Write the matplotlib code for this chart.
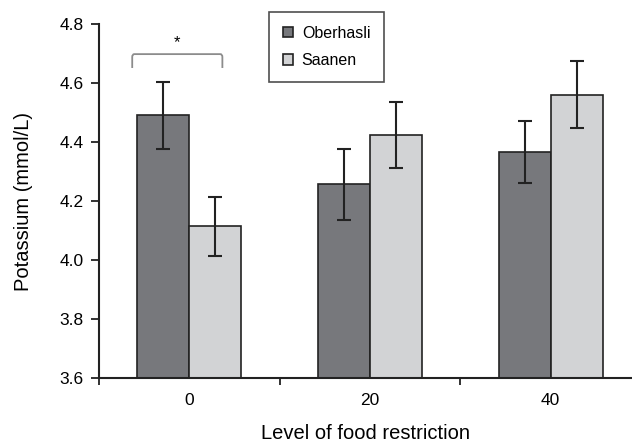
import matplotlib
matplotlib.use("Agg")
import matplotlib.pyplot as plt
from matplotlib.path import Path
from matplotlib.patches import PathPatch
import numpy as np

plt.rcParams['font.family'] = ['Liberation Sans', 'DejaVu Sans']

categories = ["0", "20", "40"]
series_names = ["Oberhasli", "Saanen"]
oberhasli = [4.49, 4.257, 4.366]
oberhasli_err = [0.115, 0.12, 0.105]
saanen = [4.115, 4.424, 4.561]
saanen_err = [0.10, 0.112, 0.115]
yticks = [3.6, 3.8, 4.0, 4.2, 4.4, 4.6, 4.8]

dark = "#77787c"
light = "#d2d3d5"
edge = "#222222"

fig = plt.figure(figsize=(6.32, 4.45), dpi=100)
ax = fig.add_axes([0.1566, 0.1506, 0.8434, 0.7954])

x = np.arange(len(categories))
w = 0.288
ax.bar(x - w / 2, oberhasli, w, color=dark, edgecolor=edge, linewidth=1.2,
       label=series_names[0], zorder=2)
ax.bar(x + w / 2, saanen, w, color=light, edgecolor=edge, linewidth=1.2,
       label=series_names[1], zorder=2)
ax.errorbar(x - w / 2, oberhasli, yerr=oberhasli_err, fmt='none', ecolor=edge,
            elinewidth=1.5, capsize=5, capthick=1.5, zorder=3)
ax.errorbar(x + w / 2, saanen, yerr=saanen_err, fmt='none', ecolor=edge,
            elinewidth=1.5, capsize=5, capthick=1.5, zorder=3)

ax.set_ylim(3.6, 4.8)
ax.set_xlim(-0.5, 2.45)
ax.set_yticks(yticks)
ax.set_yticklabels([f"{v:.1f}" for v in yticks], fontsize=12.5)

# category labels centred on groups, tick marks at group boundaries
ax.set_xticks([-0.5, 0.5, 1.5])
ax.set_xticklabels([])
ax.set_xticks(x, minor=True)
ax.set_xticklabels(categories, minor=True, fontsize=12.5)
ax.tick_params(axis='x', which='minor', length=0, pad=11)
ax.tick_params(axis='x', which='major', length=5, width=1.3, direction='out', color=edge)
ax.tick_params(axis='y', length=6, width=1.3, direction='out', color=edge, pad=5)

for s in ['top', 'right']:
    ax.spines[s].set_visible(False)
for s in ['left', 'bottom']:
    ax.spines[s].set_linewidth(1.5)
    ax.spines[s].set_color(edge)

ax.set_ylabel("Potassium (mmol/L)", fontsize=14.5, labelpad=19)
ax.set_xlabel("Level of food restriction", fontsize=14.5, labelpad=11)

# significance bracket over the 0% group
x0, x1 = -0.316, 0.183
yb, yt = 4.651, 4.698
r = 0.012
verts = [(x0, yb), (x0, yt - 0.01), (x0, yt), (x0 + r, yt),
         (x1 - r, yt), (x1, yt), (x1, yt - 0.01), (x1, yb)]
codes = [Path.MOVETO, Path.LINETO, Path.CURVE3, Path.CURVE3,
         Path.LINETO, Path.CURVE3, Path.CURVE3, Path.LINETO]
ax.add_patch(PathPatch(Path(verts, codes), fill=False, edgecolor="#8c8c8c",
                       linewidth=1.3, clip_on=False))
ax.text((x0 + x1) / 2, 4.71, "*", ha='center', va='bottom', fontsize=12)

leg = ax.legend(loc='upper left', bbox_to_anchor=(0.319, 1.034), frameon=True,
                fancybox=False, edgecolor=edge, fontsize=11.5, handlelength=0.65,
                handleheight=0.65, handletextpad=0.55, borderpad=0.85,
                labelspacing=0.8, borderaxespad=0)
leg.get_frame().set_linewidth(1.2)

fig.savefig("out.png", dpi=100)
